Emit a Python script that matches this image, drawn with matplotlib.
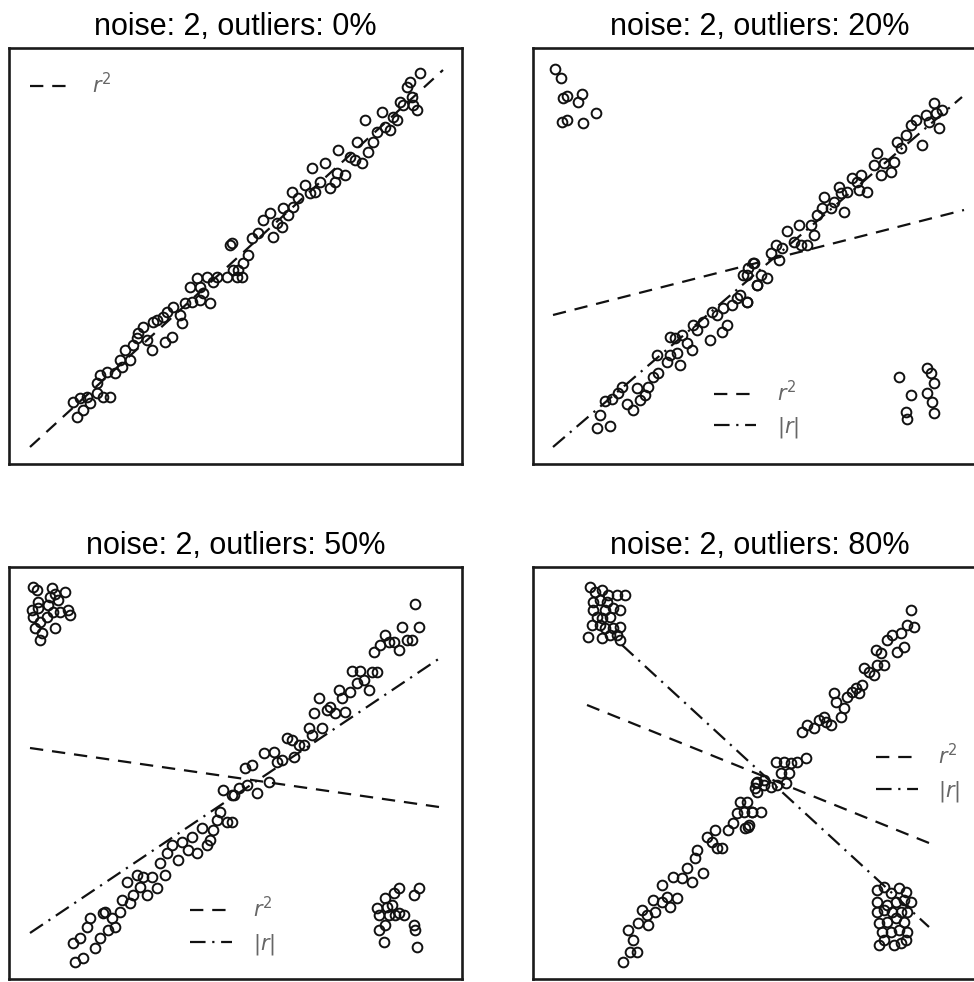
import numpy as np
import matplotlib
matplotlib.use("Agg")
import matplotlib.pyplot as plt

plt.rcParams['font.family'] = ['Liberation Sans', 'DejaVu Sans']
plt.rcParams['mathtext.fontset'] = 'dejavusans'

# Point positions read from 3x crops of the picture: (x, y) in crop pixels,
# each list goes with the crop offset it was read from.
titles = ["noise: 2, outliers: 0%", "noise: 2, outliers: 20%",
          "noise: 2, outliers: 50%", "noise: 2, outliers: 80%"]

# --- panel 1 (0% outliers) ---
p1_left = [(220,1115),(240,1105),(262,1100),(230,1160),(250,1140),(270,1120),(290,1090),
           (310,1100),(330,1100),(300,1035),(320,1025),(345,1030),(290,1060),(360,990),
           (375,960),(390,990),(365,1010),(400,945),(415,910),(430,890),(410,925),(440,930),
           (455,960),(470,870),(490,860),(460,875),(495,935),(515,920),(500,845),(520,830),
           (545,880),(540,855),(555,820),(575,815),(600,810),(630,820),(570,770),(590,745),
           (600,770),(620,740),(640,755),(650,740),(680,740),(700,720),(690,645),(610,790)]
p1_left_off = (0, 30)
p1_right = [(5,640),(25,720),(40,700),(55,675),(20,740),(35,740),(65,625),(85,610),
            (100,570),(120,550),(130,620),(140,580),(155,590),(160,535),(175,555),(190,530),
            (185,485),(205,505),(225,465),(240,490),(255,485),(270,455),(245,415),(285,400),
            (300,475),(315,455),(320,430),(345,435),(325,360),(360,380),(380,335),(375,390),
            (395,400),(405,270),(415,365),(430,335),(440,305),(455,245),(465,290),(480,300),
            (490,260),(500,270),(510,215),(520,225),(530,170),(545,200),(560,240),(540,155),
            (570,130),(550,225)]
p1_right_off = (230, 30)

# --- panel 2 (20% outliers) ---
p2_left = [(75,72),(92,98),(100,160),(110,152),(145,170),(155,148),(95,230),(112,225),
           (160,235),(198,205),
           (200,1148),(240,1142),(210,1110),(225,1068),(245,1062),(265,1045),(275,1025),
           (290,1078),(310,1095),(320,1030),(330,1065),(345,1050),(355,1025),(370,995),
           (385,985),(380,930),(410,950),(420,930),(440,925),(450,960),(485,915),(470,895),
           (420,875),(435,880),(455,870),(490,840),(500,855),(520,830),(540,885),(545,800),
           (575,860),(590,840),(560,810),(580,790),(605,780),(620,760),(630,750),(650,770),
           (640,690),(670,655),(680,720),(655,670)]
p2_left_off = (530, 45)
p2_right = [(10,770),(40,720),(70,700),(50,690),(30,655),(10,690),(80,625),(95,600),
            (105,645),(115,610),(130,558),(150,590),(165,540),(170,600),(190,600),(200,540),
            (210,570),(220,510),(235,490),(240,455),(260,490),(270,470),(285,425),(290,445),
            (300,500),(310,440),(325,400),(340,410),(350,390),(345,435),(370,440),(390,360),
            (400,325),(410,390),(420,355),(440,380),(450,350),(460,290),(470,310),(485,270),
            (500,240),(515,225),(535,300),(545,210),(555,230),(570,175),(585,248),(575,205),
            (595,195),
            (465,995),(500,1050),(485,1100),(490,1122),(548,968),(560,985),(570,1015),
            (550,1045),(565,1072),(570,1105)]
p2_right_off = (744, 45)

# --- panel 3 (50% outliers) ---
p3_left = [(85,65),(95,75),(140,70),(180,80),(135,95),(150,88),(160,105),(100,110),
           (80,135),(100,130),(130,120),(125,155),(145,140),(165,140),(190,135),(195,150),
           (85,155),(105,170),(90,190),(110,205),(105,225),(150,188),
           (210,1190),(235,1180),(270,1150),(205,1135),(225,1120),(245,1085),(255,1060),
           (285,1120),(310,1095),(330,1085),(295,1045),(300,1040),(320,1060),(345,1040),
           (350,1005),(375,1015),(385,990),(405,965),(425,990),(455,970),(365,950),(395,930),
           (415,935),(440,935),(480,930),(465,895),(485,865),(520,885),(500,840),(530,830),
           (550,855),(575,865),(560,815),(590,790),(605,840),(615,825),(625,795),(635,765),
           (645,740),(665,770),(655,675),(680,690)]
p3_left_off = (5, 565)
p3_right = [(5,690),(0,770),(20,670),(45,660),(40,610),(60,600),(75,685),(110,650),
            (95,565),(125,560),(135,590),(150,585),(165,520),(180,525),(185,575),(200,540),
            (215,540),(230,490),(240,510),(245,445),(260,400),(270,490),(285,435),(295,425),
            (310,445),(320,375),(330,400),(340,440),(355,380),(360,318),(375,355),(385,318),
            (395,345),(410,375),(420,320),(435,322),(425,262),(445,240),(460,210),(470,230),
            (485,230),(500,255),(510,185),(525,225),(540,225),(560,185),(548,118),
            (435,1030),(440,1050),(460,1000),(465,1025),(480,1020),(485,985),(500,970),
            (490,1050),(515,1050),(440,1095),(460,1080),(545,990),(560,970),(545,1080),
            (550,1095),(455,1130),(555,1145),(470,1050),(500,1045)]
p3_right_off = (232, 565)

# --- panel 4 (80% outliers) ---
p4_left = [(180,65),(195,80),(215,75),(235,90),(260,90),(285,90),(190,110),(210,105),
           (230,110),(190,135),(225,135),(250,130),(270,135),(200,155),(215,160),(240,155),
           (185,180),(210,180),(225,190),(250,190),(270,185),(175,215),(215,220),(240,210),
           (260,210),(270,225),
           (280,1190),(300,1160),(320,1160),(310,1125),(295,1095),(325,1075),(335,1035),
           (350,1050),(355,1080),(375,1040),(370,1005),(395,1010),(410,995),(420,1025),
           (440,1000),(395,960),(430,935),(455,940),(470,910),(485,950),(495,880),(500,855),
           (520,925),(530,815),(545,830),(560,850),(575,850),(555,795),(595,795),(610,775),
           (620,745),(630,710),(645,790),(655,785),(665,740),(675,670),(680,650)]
p4_left_off = (530, 565)
p4_right = [(10,710),(0,740),(15,780),(25,740),(50,740),(35,655),(40,680),(60,660),
            (80,665),(100,660),(125,655),(95,590),(120,590),(140,595),(160,590),(185,580),
            (110,625),(135,625),(60,645),
            (175,500),(190,480),(210,490),(225,465),(240,455),(260,480),(245,470),(270,385),
            (275,410),(290,455),(300,430),(310,395),(325,380),(345,385),(335,370),(355,360),
            (360,310),(375,320),(390,330),(400,300),(420,300),(395,255),(410,265),(430,225),
            (445,210),(460,260),(470,205),(480,245),(490,180),(510,185),(500,135),
            (400,975),(420,965),(440,985),(465,968),(485,980),(400,1010),(430,1020),
            (455,1010),(480,1005),(500,1010),(400,1040),(420,1035),(445,1040),(470,1040),
            (490,1040),(405,1075),(430,1070),(455,1060),(480,1070),(415,1100),(440,1100),
            (465,1095),(490,1100),(405,1140),(450,1140),(470,1135),(485,1125),(420,1125)]
p4_right_off = (744, 565)

# fitted lines, endpoints in picture pixels
r2_lines = [((30, 443), (447, 70)), ((553, 964), (315, 210)),
            ((30, 439), (748, 807)), ((587, 929), (705, 843))]
absr_lines = [None, ((553, 962), (447, 97)),
              ((30, 440), (933, 658)), ((622, 929), (645, 927))]

# panel frames in picture pixels: left, right, top, bottom
frames = [(9, 462, 48, 464), (533, 986, 48, 464),
          (9, 462, 567, 979), (533, 986, 567, 979)]
legend_anchor = [(0.046, 0.913), (0.40, 0.13), (0.40, 0.127), (0.757, 0.499)]


def to_px(pts, off):
    a = np.array(pts, dtype=float) / 3.0
    return a[:, 0] + off[0], a[:, 1] + off[1]


panels = [[(p1_left, p1_left_off), (p1_right, p1_right_off)],
          [(p2_left, p2_left_off), (p2_right, p2_right_off)],
          [(p3_left, p3_left_off), (p3_right, p3_right_off)],
          [(p4_left, p4_left_off), (p4_right, p4_right_off)]]

W, H = 974, 982
fig = plt.figure(figsize=(W / 100, H / 100), dpi=100)

for i in range(4):
    l, r, t, b = frames[i]
    ax = fig.add_axes([l / W, (H - b) / H, (r - l) / W, (b - t) / H])
    ax.set_xlim(l, r)
    ax.set_ylim(b, t)
    ax.set_xticks([])
    ax.set_yticks([])
    for s in ax.spines.values():
        s.set_linewidth(1.9)
        s.set_color('#1a1a1a')

    for pts, off in panels[i]:
        x, y = to_px(pts, off)
        ax.plot(x, y, 'o', ms=7.0, mfc='none', mec='#111111', mew=1.4, zorder=3)

    (x0, x1), (y0, y1) = r2_lines[i]
    ax.plot([x0, x1], [y0, y1], color='#111111', lw=1.6, dashes=(6, 4),
            label='$r^2$', zorder=2)
    if absr_lines[i] is not None:
        (x0, x1), (y0, y1) = absr_lines[i]
        ax.plot([x0, x1], [y0, y1], color='#111111', lw=1.6, dashes=(7, 3, 1, 3),
                label='$|r|$', zorder=2)

    ax.legend(loc='center left', bbox_to_anchor=legend_anchor[i], frameon=False,
              fontsize=15, handlelength=2.0, handletextpad=1.0, labelspacing=0.5,
              borderpad=0, borderaxespad=0, labelcolor='#666666')
    ax.set_title(titles[i], fontsize=22, pad=9)

fig.savefig('out.png', dpi=100)
